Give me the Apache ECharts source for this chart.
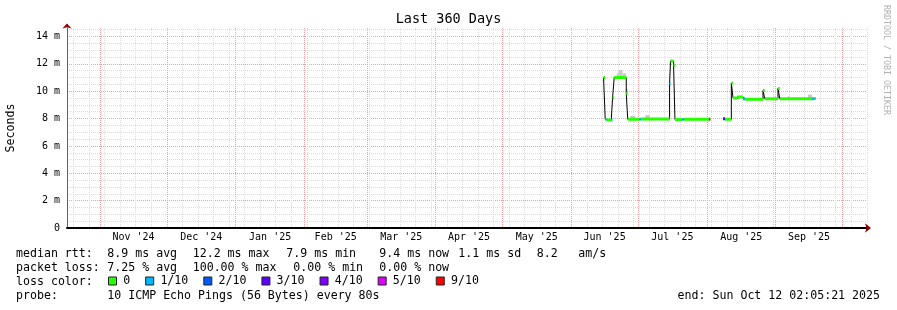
<!DOCTYPE html>
<html><head><meta charset="utf-8">
<script src="https://cdn.jsdelivr.net/npm/echarts@6/dist/echarts.min.js"></script>
<style>html,body{margin:0;padding:0;background:#fff}#c{width:897px;height:310px}</style>
</head><body><div id="c"></div>
<script>
// ---------------- data ----------------
const titleText = 'Last 360 Days';
const yAxisTitle = 'Seconds';
const sideText = 'RRDTOOL / TOBI OETIKER';
const startTime = '2024-10-17T02:05:21';
const endTime = '2025-10-12T02:05:21';
const monthStarts = ['2024-11-01','2024-12-01','2025-01-01','2025-02-01','2025-03-01','2025-04-01',
                     '2025-05-01','2025-06-01','2025-07-01','2025-08-01','2025-09-01','2025-10-01'];
const monthLabels = ["Nov '24","Dec '24","Jan '25","Feb '25","Mar '25","Apr '25",
                     "May '25","Jun '25","Jul '25","Aug '25","Sep '25"];
const yMajorTicks = [0, 2, 4, 6, 8, 10, 12, 14];
const yMax = 14.62;

// median rtt (ms): segment i runs from segTimes[i] to segTimes[i+1]
const segTimes = ['2025-06-15T13:00','2025-06-16T07:00','2025-06-16T18:00','2025-06-19T00:00','2025-06-19T14:00',
  '2025-06-20T08:00','2025-06-25T18:00','2025-06-26T10:00','2025-07-01T14:00','2025-07-02T07:00',
  '2025-07-15T06:00','2025-07-15T16:00','2025-07-17T01:00','2025-07-17T16:00','2025-07-20T23:00',
  '2025-07-21T13:00','2025-08-02T00:00','2025-08-02T14:00','2025-08-08T07:00','2025-08-09T05:00',
  '2025-08-12T01:00','2025-08-12T19:00','2025-08-14T14:00','2025-08-17T07:00','2025-08-18T05:00',
  '2025-08-26T07:00','2025-08-27T02:00','2025-09-02T01:00','2025-09-02T20:00','2025-09-17T08:00',
  '2025-09-18T09:00','2025-09-19T00:00'];
const segMedian = [11.0, 7.95, 7.9, 7.9, 9.5,
  11.0, 9.85, 7.95, 7.95, 7.97,
  10.55, 12.2, 11.9, 7.93, 7.93,
  7.95, 7.95, null, 7.98, 7.95,
  10.6, 9.5, 9.57, 9.45, 9.42,
  10.05, 9.45, 10.2, 9.45, 9.45,
  9.47];
const segLoss = [0, 1, 0, 1, 0,
  0, 0, 0, 1, 0,
  1, 0, 0, 0, 1,
  0, 6, 0, 3, 0,
  0, 0, 0, 1, 0,
  0, 0, 0, 0, 1,
  0];
const lossNames = ['0', '1/10', '2/10', '3/10', '4/10', '5/10', '9/10'];
const lossColors = ['#26ff00', '#00b8ff', '#0059ff', '#5e00ff', '#7e00ff', '#dd00ff', '#ff0000'];

// smoke (ping spread above the median, ms)
const smokeStart = ['2025-06-21T12:00','2025-06-22T07:00','2025-06-24T02:00','2025-06-25T18:00','2025-06-27T13:00','2025-07-04T07:00','2025-09-06T13:00','2025-09-15T13:00'];
const smokeEnd   = ['2025-06-22T07:00','2025-06-24T02:00','2025-06-25T18:00','2025-06-26T10:00','2025-06-29T19:00','2025-07-06T06:00','2025-09-07T05:00','2025-09-17T08:00'];
const smokeLo    = [11.0, 11.0, 11.0, 9.85, 7.95, 7.97, 9.45, 9.45];
const smokeHi    = [11.3, 11.55, 11.3, 10.2, 8.2, 8.25, 9.65, 9.75];

// legend text
const statLabels = ['median rtt:', 'packet loss:', 'loss color:', 'probe:'];
const rttStats = ['8.9 ms avg', '12.2 ms max', '7.9 ms min', '9.4 ms now', '1.1 ms sd', '8.2', 'am/s'];
const lossStats = ['7.25 % avg', '100.00 % max', '0.00 % min', '0.00 % now'];
const probeText = '10 ICMP Echo Pings (56 Bytes) every 80s';
const endText = 'end: Sun Oct 12 02:05:21 2025';

// ---------------- build ----------------
const MONO = '"DejaVu Sans Mono", monospace';
const ts = s => Date.parse((s.length === 10 ? s + 'T00:00:00' : s) + 'Z');
const T0 = ts(startTime), T1 = ts(endTime);
const DAY = 864e5;
const monthTs = monthStarts.map(ts);
const monthMids = monthLabels.map((_, i) => (monthTs[i] + monthTs[i + 1]) / 2);

const sundays = [];
{
  let d = new Date(T0); d.setUTCHours(0, 0, 0, 0);
  while (d.getUTCDay() !== 0 || d.getTime() < T0) d = new Date(d.getTime() + DAY);
  for (let t = d.getTime(); t <= T1; t += 7 * DAY) sundays.push(t);
}
// minor horizontal grid every 0.5 ms, skipping the major (2 ms) positions
const yMinor = [];
for (let v = 0.5; v <= yMax + 1e-9; v += 0.5) if (Math.abs(v / 2 - Math.round(v / 2)) > 1e-9) yMinor.push(v);

const medianLine = [];
segMedian.forEach((v, i) => {
  const a = ts(segTimes[i]), b = ts(segTimes[i + 1]);
  if (v == null) { medianLine.push([a, '-']); return; }
  medianLine.push([a, v], [b, v]);
});

const lossSeries = lossNames.map((name, k) => {
  const data = [];
  segMedian.forEach((v, i) => {
    if (v == null || segLoss[i] !== k) return;
    const a = ts(segTimes[i]), b = ts(segTimes[i + 1]);
    data.push([a, v], [b, v], [b, '-']);
  });
  return {
    type: 'line', name, xAxisIndex: 1, yAxisIndex: 0, data,
    symbol: 'none', showSymbol: false, connectNulls: false, silent: true, z: 4,
    lineStyle: { color: lossColors[k], width: 3, cap: 'butt' },
    itemStyle: { color: lossColors[k] }
  };
});

const smokeData = smokeStart.map((s, i) => [ts(s), ts(smokeEnd[i]), smokeLo[i], smokeHi[i]]);

const txt = (text, x, y, extra) => ({
  type: 'text', x, y, silent: true,
  style: Object.assign({ text, font: '11.6px ' + MONO, fill: '#000', align: 'left', verticalAlign: 'middle' }, extra || {})
});

const rows = [254, 268, 282, 296];
const rttX = [107.3, 192.7, 286.3, 379.3, 458.3, 536.7, 578.3];
const lossX = [107.3, 192.7, 293.3, 379.3];
const graphics = [];
statLabels.forEach((s, i) => graphics.push(txt(s, 16, rows[i])));
rttStats.forEach((s, i) => graphics.push(txt(s, rttX[i], rows[0])));
lossStats.forEach((s, i) => graphics.push(txt(s, lossX[i], rows[1])));
graphics.push(txt(probeText, 107.3, rows[3]));
graphics.push(txt(endText, 880, rows[3], { align: 'right' }));
graphics.push({
  type: 'text', x: 886, y: 60, rotation: -Math.PI / 2, silent: true,
  style: { text: sideText, font: '8.3px ' + MONO, fill: '#b0b0b0', align: 'center', verticalAlign: 'middle' }
});

const labelStyle = { color: '#000', fontFamily: MONO, fontSize: 10 };
const minorColor = '#dcdcdc';
const majorColor = '#f2a2a2';

const option = {
  animation: false,
  backgroundColor: '#fff',
  title: {
    text: titleText, left: 'center', top: 12, padding: 0,
    textStyle: { fontFamily: MONO, fontSize: 13.5, fontWeight: 'normal', color: '#000' }
  },
  grid: { left: 67, top: 28, width: 800, height: 200, show: false, containLabel: false, outerBoundsMode: 'none' },
  legend: {
    data: lossNames, left: 108, top: 275, padding: 0, icon: 'rect',
    itemWidth: 8, itemHeight: 8, itemGap: 15.0,
    itemStyle: { borderColor: '#222', borderWidth: 1 },
    textStyle: { fontFamily: MONO, fontSize: 11.6, color: '#000', padding: [0, 0, 0, 1.7] },
    selectedMode: false
  },
  xAxis: [
    { // weekly minor grid + arrow head only
      type: 'value', min: T0, max: T1, position: 'bottom',
      axisLine: { show: true, onZero: false, symbol: ['none', 'arrow'], symbolSize: [7, 6], symbolOffset: [0, 4],
                  lineStyle: { color: '#900000', width: 0 } },
      axisTick: { show: false, customValues: sundays },
      axisLabel: { show: false },
      splitLine: { show: true, lineStyle: { color: minorColor, type: [1, 1], width: 1 } }
    },
    { // month major grid + labels
      type: 'value', min: T0, max: T1, position: 'bottom',
      axisLine: { show: true, onZero: false, lineStyle: { color: '#000', width: 2 } },
      axisTick: { show: false, customValues: monthTs },
      axisLabel: {
        show: true, customValues: monthMids, margin: 4, ...labelStyle,
        formatter: v => {
          let best = 0;
          monthMids.forEach((m, i) => { if (Math.abs(m - v) < Math.abs(monthMids[best] - v)) best = i; });
          return monthLabels[best];
        }
      },
      splitLine: { show: true, lineStyle: { color: majorColor, type: [1, 1], width: 1 } }
    }
  ],
  yAxis: [
    { // major grid + labels
      type: 'value', min: 0, max: yMax, position: 'left',
      name: yAxisTitle, nameLocation: 'middle', nameRotate: 90, nameGap: 50,
      nameTextStyle: { fontFamily: MONO, fontSize: 11.6, color: '#000' },
      axisLine: { show: true, onZero: false, lineStyle: { color: '#606060', width: 1 } },
      axisTick: { show: false, customValues: yMajorTicks },
      axisLabel: {
        show: true, customValues: yMajorTicks, margin: 7, ...labelStyle,
        formatter: v => (v === 0 ? '0' : v + ' m')
      },
      splitLine: { show: true, lineStyle: { color: majorColor, type: [1, 1], width: 1 } }
    },
    { // minor grid + arrow head only
      type: 'value', min: 0, max: yMax, position: 'left',
      axisLine: { show: true, onZero: false, symbol: ['none', 'arrow'], symbolSize: [7, 5], symbolOffset: [0, 4.5],
                  lineStyle: { color: '#900000', width: 0 } },
      axisTick: { show: false, customValues: yMinor },
      axisLabel: { show: false },
      splitLine: { show: true, lineStyle: { color: minorColor, type: [1, 1], width: 1 } }
    }
  ],
  graphic: graphics,
  series: [
    {
      type: 'custom', name: 'smoke', xAxisIndex: 1, yAxisIndex: 0, data: smokeData, silent: true, z: 2,
      encode: { x: [0, 1], y: [2, 3] },
      renderItem: (p, api) => {
        const a = api.coord([api.value(0), api.value(3)]);
        const b = api.coord([api.value(1), api.value(2)]);
        return { type: 'rect', shape: { x: a[0], y: a[1], width: b[0] - a[0], height: b[1] - a[1] }, style: { fill: '#c8c8c8' } };
      }
    },
    {
      type: 'line', name: 'median', xAxisIndex: 1, yAxisIndex: 0, data: medianLine,
      symbol: 'none', showSymbol: false, connectNulls: false, silent: true, z: 3,
      lineStyle: { color: '#000', width: 1 }
    },
    ...lossSeries
  ]
};

const chart = echarts.init(document.getElementById('c'));
chart.setOption(option);
</script>
</body></html>
